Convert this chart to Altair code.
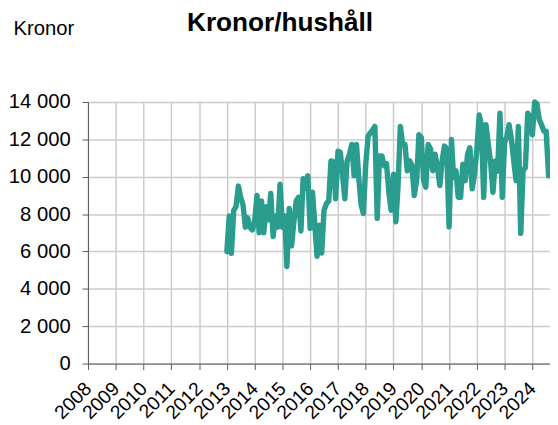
import altair as alt
import pandas as pd

# Monthly values, kronor per household
v2013 = [6000, 7900, 5900, 8200, 8400, 9500, 8900, 8500, 7300, 7800, 7300, 7150]
v2014 = [7600, 9000, 7000, 8700, 7000, 8400, 7700, 9100, 6800, 7900, 7300, 9600]
v2015 = [7300, 7900, 5200, 8300, 6300, 7600, 8700, 8900, 7100, 9900, 9400, 10050]
v2016 = [7240, 9170, 7500, 5740, 7410, 5920, 8200, 8560, 8700, 10850, 10800, 8820]
v2017 = [11370, 11300, 10140, 8820, 10850, 11200, 11730, 10050, 11730, 9960, 8500, 8030]
v2018 = [10670, 12170, 12340, 12500, 12690, 7770, 11110, 11110, 10580, 10700, 9170, 8200]
v2019 = [10140, 7590, 9440, 12690, 11730, 11730, 10320, 10850, 10600, 9000, 9790, 12250]
v2020 = [12100, 9790, 9440, 11730, 11500, 10320, 11200, 10490, 9530, 10850, 11640, 11500]
v2021 = [7320, 11990, 9960, 10320, 8900, 8900, 10670, 9790, 11200, 11550, 9350, 10140]
v2022 = [11460, 13310, 12780, 8900, 12780, 11730, 10760, 9170, 10850, 10300, 13400, 8900]
v2023 = [11810, 12170, 12780, 11990, 10850, 9790, 12690, 6970, 10320, 10490, 13400, 13200]
v2024 = [12250, 14000, 13900, 13050, 12780, 12430, 12430, 10050]

values = v2013 + v2014 + v2015 + v2016 + v2017 + v2018 + v2019 + v2020 + v2021 + v2022 + v2023 + v2024
dates = pd.date_range("2013-01-01", periods=len(values), freq="MS")
df = pd.DataFrame({"date": dates, "kronor": values})

y_ticks = [0, 2000, 4000, 6000, 8000, 10000, 12000, 14000]
title_text = ["Kronor/hushåll"]

FONT = "Liberation Sans"

line = alt.Chart(df).mark_line(
    color="#2a9d8f", strokeWidth=5.5, strokeJoin="round", strokeCap="round"
).encode(
    x=alt.X(
        "date:T",
        scale=alt.Scale(
            domain=[alt.DateTime(year=2008, month=1, date=1),
                    alt.DateTime(year=2024, month=8, date=20)]
        ),
        axis=alt.Axis(
            title=None,
            format="%Y",
            tickCount={"interval": "year", "step": 1},
            labelAngle=-45,
            labelAlign="right",
            labelBaseline="middle",
            labelOverlap=False,
            labelFlush=False,
            labelFont=FONT,
            labelFontSize=19.5,
            labelColor="#000000",
            labelPadding=16,
            tickSize=6,
            tickColor="#595959",
            domainColor="#595959",
            grid=True,
            gridColor="#cccccc",
            gridWidth=1.5,
        ),
    ),
    y=alt.Y(
        "kronor:Q",
        scale=alt.Scale(domain=[0, 14000], nice=False),
        axis=alt.Axis(
            values=y_ticks,
            labelExpr="replace(format(datum.value, ','), ',', ' ')",
            labelFont=FONT,
            labelFontSize=20.5,
            labelColor="#000000",
            labelPadding=12,
            tickSize=6,
            tickColor="#595959",
            domainColor="#595959",
            grid=True,
            gridColor="#cccccc",
            gridWidth=1.5,
            title="Kronor",
            titleAngle=0,
            titleX=-76,
            titleY=-68,
            titleAlign="left",
            titleBaseline="alphabetic",
            titleFont=FONT,
            titleFontSize=20.5,
            titleFontWeight="normal",
            titleColor="#000000",
        ),
    ),
)

title = alt.Chart(pd.DataFrame({"t": title_text})).mark_text(
    font=FONT, fontSize=26.5, fontWeight="bold", color="#000000",
    align="center", baseline="alphabetic",
).encode(
    text="t:N",
    x=alt.value(194.5),
    y=alt.value(-71.5),
)

chart = alt.layer(line, title).properties(
    width=468,
    height=265,
    autosize=alt.AutoSizeParams(type="none"),
    padding={"left": 81, "top": 92.5, "right": 0, "bottom": 60},
).configure_view(stroke=None)

chart.save("out.html", embed_options={"renderer": "svg", "actions": False})
